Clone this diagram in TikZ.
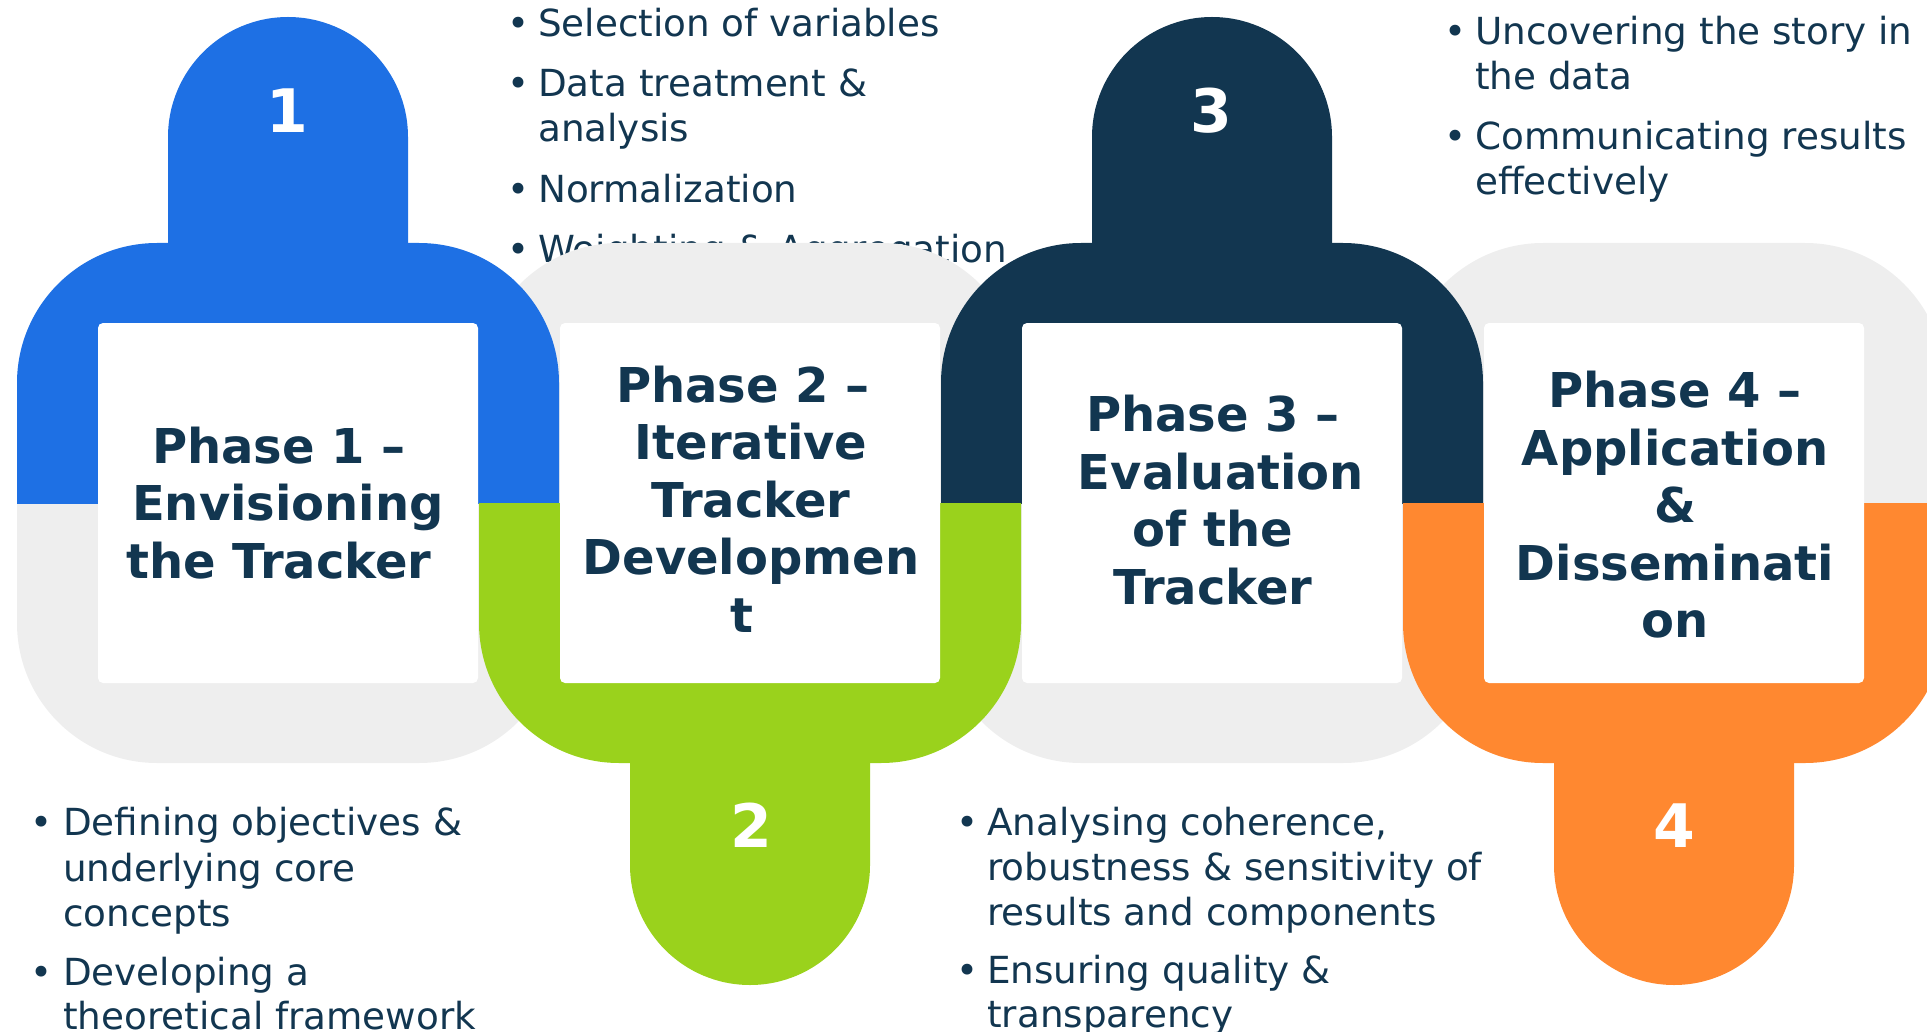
\documentclass[tikz,border=0pt]{standalone}
\usepackage{fontspec}
\setmainfont{DejaVu Sans}
\definecolor{navy}{RGB}{18,54,80}
\definecolor{pblue}{RGB}{30,112,228}
\definecolor{pgreen}{RGB}{154,210,28}
\definecolor{porange}{RGB}{255,136,48}
\definecolor{pgray}{RGB}{238,238,238}
\newcommand{\bodyfnt}{\fontsize{37.3}{45}\selectfont}
\newcommand{\titlefnt}{\fontsize{48}{57.5}\selectfont\bfseries}
\newcommand{\numfnt}{\fontsize{60}{72}\selectfont\bfseries}
\newcommand{\pad}[1]{\rule{#1pt}{0pt}}
\begin{document}
\begin{tikzpicture}[x=1pt,y=-1pt,
  line/.style={anchor=base west, inner sep=0pt, font=\bodyfnt, text=navy},
  bul/.style={anchor=base, inner sep=0pt, font=\bodyfnt, text=navy},
  ttl/.style={align=center, anchor=center, inner sep=0pt, font=\titlefnt, text=navy},
  num/.style={anchor=base, inner sep=0pt, font=\numfnt, text=white},
  body/.style={rounded corners=140pt},
  card/.style={fill=white, rounded corners=5pt}]
\useasboundingbox (0,0) rectangle (1927,1032);

% ---- top middle list (drawn first: partly covered by the phase 2 shape)
\node[bul]  (b2a) at (518,37)  {•};
\node[line] (l2a) at (538,37)  {Selection of variables};
\node[bul]  (b2b) at (518,97)  {•};
\node[line] (l2b) at (538,97)  {Data treatment \&};
\node[line] (l2c) at (538,142) {analysis};
\node[bul]  (b2d) at (518,203) {•};
\node[line] (l2d) at (538,203) {Normalization};
\node[bul]  (b2e) at (518,263) {•};
\node[line] (l2e) at (538,263) {Weighting \& Aggregation};

% ---- grey halves
\foreach \cx in {288,1212}{
  \begin{scope}
    \clip (\cx-300,503) rectangle (\cx+300,1100);
    \fill[pgray, body] (\cx-271,243) rectangle (\cx+271,763);
  \end{scope}
}
\foreach \cx in {750,1674}{
  \begin{scope}
    \clip (\cx-300,-100) rectangle (\cx+300,503);
    \fill[pgray, body] (\cx-271,243) rectangle (\cx+271,763);
  \end{scope}
}

% ---- coloured halves with top tabs
\foreach \cx/\col in {288/pblue,1212/navy}{
  \begin{scope}
    \clip (\cx-300,-100) rectangle (\cx+300,503);
    \fill[\col, body] (\cx-271,243) rectangle (\cx+271,763);
  \end{scope}
  \fill[\col] (\cx-120,260) -- (\cx-120,137) arc[start angle=180, end angle=0, radius=120pt] -- (\cx+120,260) -- cycle;
}
% ---- coloured halves with bottom tabs
\foreach \cx/\col in {750/pgreen,1674/porange}{
  \begin{scope}
    \clip (\cx-300,503) rectangle (\cx+300,1100);
    \fill[\col, body] (\cx-271,243) rectangle (\cx+271,763);
  \end{scope}
  \fill[\col] (\cx-120,740) -- (\cx-120,865) arc[start angle=180, end angle=360, radius=120pt] -- (\cx+120,740) -- cycle;
}

% ---- white cards
\foreach \cx in {288,750,1212,1674}{
  \fill[card] (\cx-190,323) rectangle (\cx+190,683);
}

% ---- titles
\node[ttl] (p1) at (279,503)  {Phase 1 –\\\pad{18}Envisioning\\the Tracker};
\node[ttl] (p2) at (751,499)  {Phase 2 –\pad{16}\\Iterative\\Tracker\\Developmen\\t\pad{18}};
\node[ttl] (p3) at (1213,500) {Phase 3 –\\\pad{16}Evaluation\\of the\\Tracker};
\node[ttl] (p4) at (1675,505) {Phase 4 –\\Application\\\&\\Disseminati\\on};

% ---- numbers
\node[num] (n1) at (287,133)  {1};
\node[num] (n2) at (751,847)  {2};
\node[num] (n3) at (1211,133) {3};
\node[num] (n4) at (1674,847) {4};

% ---- top right list
\node[bul]  (b4a) at (1455,45)  {•};
\node[line] (l4a) at (1475,45)  {Uncovering the story in};
\node[line] (l4b) at (1475,90)  {the data};
\node[bul]  (b4c) at (1455,150) {•};
\node[line] (l4c) at (1475,150) {Communicating results};
\node[line] (l4d) at (1475,195) {effectively};

% ---- bottom left list
\node[bul]  (b1a) at (42,835)  {•};
\node[line] (l1a) at (63,835)  {Defining objectives \&};
\node[line] (l1b) at (63,881)  {underlying core};
\node[line] (l1c) at (63,926)  {concepts};
\node[bul]  (b1d) at (42,985)  {•};
\node[line] (l1d) at (63,985)  {Developing a};
\node[line] (l1e) at (63,1029) {theoretical framework};

% ---- bottom middle list
\node[bul]  (b3a) at (967,835)  {•};
\node[line] (l3a) at (987,835)  {Analysing coherence,};
\node[line] (l3b) at (987,880)  {robustness \& sensitivity of};
\node[line] (l3c) at (987,925)  {results and components};
\node[bul]  (b3d) at (967,983)  {•};
\node[line] (l3d) at (987,983)  {Ensuring quality \&};
\node[line] (l3e) at (987,1027) {transparency};
\end{tikzpicture}
\end{document}
